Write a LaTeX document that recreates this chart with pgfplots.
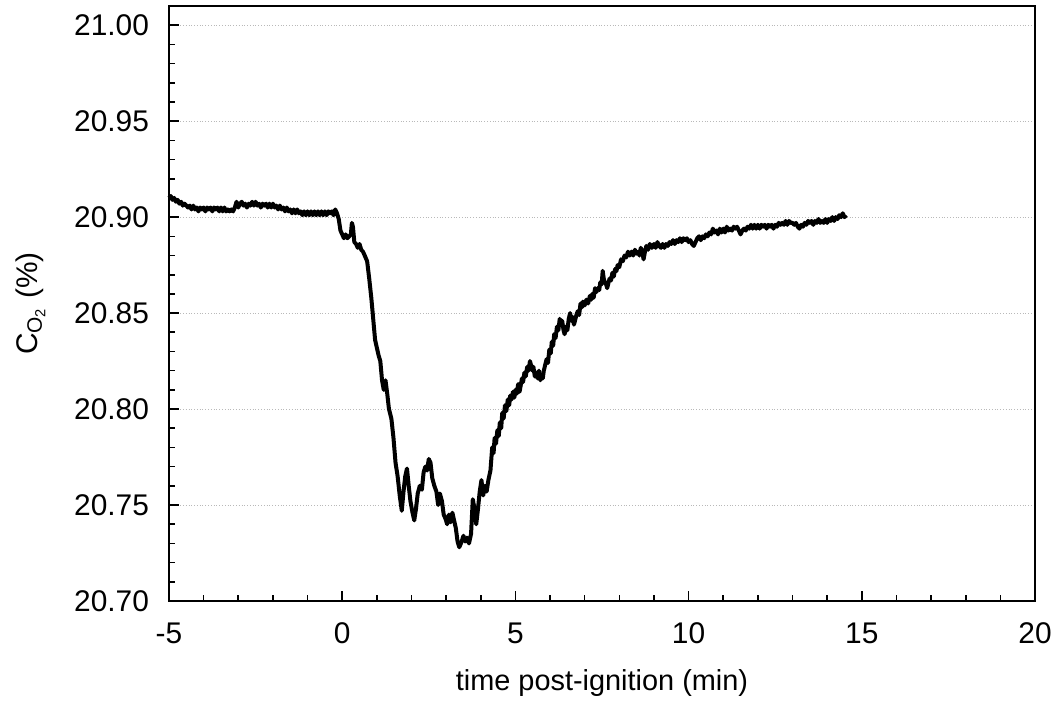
\documentclass[border=0pt]{standalone}
\usepackage{pgfplots}
\pgfplotsset{compat=1.18}
\usepackage{fontspec}
\setmainfont{Liberation Sans}
\begin{document}
\fontsize{14.5}{17}\selectfont
\begin{tikzpicture}
\begin{axis}[
  name=ax,
  scale only axis,
  width=433bp, height=297.5bp,
  xmin=-5, xmax=20, ymin=20.70, ymax=21.01,
  xtick={-5,0,5,10,15,20},
  ytick={20.70,20.75,20.80,20.85,20.90,20.95,21.00},
  minor x tick num=4, minor y tick num=4,
  tick align=inside,
  xtick pos=bottom, ytick pos=left,
  major tick length=5bp, minor tick length=3bp,
  every tick/.style={black, line width=0.8bp},
  axis line style={line width=1bp},
  ymajorgrids,
  major grid style={densely dotted, gray!55, line width=0.4bp},
  /pgf/number format/assume math mode=true,
  yticklabel style={/pgf/number format/fixed, /pgf/number format/fixed zerofill, /pgf/number format/precision=2, font=\fontsize{15}{17}\selectfont, xshift=-5bp},
  xticklabel style={font=\fontsize{15}{17}\selectfont, yshift=-6bp},
  scaled y ticks=false,
  xlabel={time post-ignition (min)},
  ylabel={C\textsubscript{O\textsubscript{2}} (\%)},
  xlabel style={at={(axis description cs:0.5,0)}, anchor=center, yshift=-41bp},
  ylabel style={at={(axis description cs:-0.16,0.5)}, anchor=center, font=\fontsize{15}{17}\selectfont},
  clip=false,
]
\addplot[black, line width=2bp, line join=round] coordinates {
(-5.00,20.910)(-4.95,20.911)(-4.90,20.909)(-4.85,20.910)(-4.80,20.908)(-4.75,20.909)(-4.70,20.907)(-4.65,20.908)(-4.60,20.906)(-4.55,20.907)(-4.50,20.906)
(-4.45,20.905)(-4.40,20.906)(-4.35,20.904)(-4.30,20.906)(-4.25,20.904)(-4.20,20.905)(-4.15,20.903)(-4.10,20.905)(-4.05,20.904)(-4.00,20.905)(-3.95,20.903)(-3.90,20.905)
(-3.85,20.904)(-3.80,20.905)(-3.75,20.903)(-3.70,20.905)(-3.65,20.904)(-3.60,20.905)(-3.55,20.903)(-3.50,20.905)(-3.45,20.903)(-3.40,20.905)(-3.35,20.903)(-3.30,20.904)
(-3.25,20.903)(-3.20,20.904)(-3.15,20.903)(-3.10,20.905)(-3.05,20.908)(-3.00,20.905)(-2.95,20.907)(-2.90,20.908)(-2.85,20.906)(-2.80,20.907)(-2.75,20.905)(-2.70,20.907)
(-2.65,20.906)(-2.60,20.908)(-2.55,20.906)(-2.50,20.908)(-2.45,20.906)(-2.40,20.907)(-2.35,20.905)(-2.30,20.907)(-2.25,20.906)(-2.20,20.907)(-2.15,20.905)(-2.10,20.907)
(-2.05,20.905)(-2.00,20.907)(-1.95,20.905)(-1.90,20.906)(-1.85,20.904)(-1.80,20.906)(-1.75,20.904)(-1.70,20.905)(-1.65,20.903)(-1.60,20.905)(-1.55,20.903)(-1.50,20.904)
(-1.45,20.902)(-1.40,20.904)(-1.35,20.902)(-1.30,20.904)(-1.25,20.902)(-1.20,20.903)(-1.15,20.901)(-1.10,20.903)(-1.05,20.901)(-1.00,20.903)(-0.95,20.901)(-0.90,20.903)
(-0.85,20.901)(-0.80,20.903)(-0.75,20.901)(-0.70,20.903)(-0.65,20.901)(-0.60,20.903)(-0.55,20.901)(-0.50,20.903)(-0.45,20.901)(-0.40,20.903)(-0.35,20.902)(-0.30,20.903)
(-0.25,20.901)(-0.20,20.904)(-0.15,20.902)(-0.10,20.899)(-0.05,20.893)(0.00,20.891)
(0.05,20.889)(0.10,20.891)(0.15,20.889)(0.20,20.890)(0.25,20.891)(0.28,20.897)(0.31,20.895)(0.35,20.887)
(0.40,20.886)(0.45,20.884)(0.50,20.886)(0.55,20.883)(0.60,20.882)(0.65,20.880)(0.72,20.877)(0.78,20.868)(0.84,20.858)
(0.90,20.846)(0.95,20.836)(1.00,20.832)(1.05,20.828)(1.10,20.825)(1.15,20.815)
(1.20,20.810)(1.25,20.815)(1.30,20.808)(1.35,20.800)(1.42,20.795)(1.48,20.785)
(1.54,20.772)(1.60,20.765)(1.66,20.755)(1.72,20.747)(1.77,20.757)(1.82,20.765)
(1.87,20.769)(1.92,20.760)(1.97,20.752)(2.03,20.746)(2.08,20.742)(2.13,20.748)
(2.18,20.756)(2.24,20.760)(2.30,20.758)(2.35,20.767)(2.40,20.770)(2.45,20.768)
(2.50,20.774)(2.55,20.772)(2.60,20.764)(2.66,20.760)(2.72,20.757)(2.77,20.750)
(2.82,20.756)(2.88,20.752)(2.93,20.745)(2.98,20.743)(3.03,20.740)(3.08,20.745)
(3.13,20.741)(3.18,20.746)(3.23,20.742)(3.28,20.738)(3.33,20.731)(3.38,20.728)
(3.45,20.731)(3.50,20.734)(3.55,20.731)(3.60,20.733)(3.66,20.730)(3.72,20.735)
(3.77,20.753)(3.82,20.748)(3.87,20.740)(3.92,20.748)(3.97,20.757)(4.02,20.763)
(4.07,20.755)(4.12,20.760)(4.17,20.757)(4.22,20.763)(4.28,20.768)
(4.33,20.780)(4.37,20.777)(4.40,20.785)(4.44,20.782)(4.48,20.789)(4.52,20.786)(4.55,20.793)(4.59,20.790)(4.62,20.798)(4.66,20.795)
(4.70,20.802)(4.74,20.799)(4.78,20.805)(4.82,20.802)(4.85,20.807)(4.89,20.805)(4.93,20.809)(4.97,20.806)(5.00,20.810)(5.04,20.808)
(5.08,20.813)(5.12,20.809)(5.15,20.812)(5.19,20.816)(5.22,20.814)(5.26,20.819)(5.30,20.817)(5.34,20.822)(5.38,20.820)(5.42,20.825)
(5.45,20.823)(5.49,20.820)(5.52,20.822)(5.56,20.817)(5.60,20.819)(5.64,20.816)(5.68,20.820)(5.72,20.815)(5.75,20.818)(5.79,20.816)
(5.82,20.820)(5.86,20.823)(5.90,20.826)(5.94,20.824)(5.98,20.831)(6.02,20.829)(6.05,20.835)(6.09,20.833)(6.12,20.839)(6.16,20.837)
(6.20,20.843)(6.24,20.841)(6.28,20.847)(6.32,20.844)(6.35,20.846)(6.39,20.841)(6.42,20.839)(6.46,20.843)(6.50,20.841)(6.54,20.847)
(6.58,20.850)(6.62,20.846)(6.65,20.848)(6.69,20.844)(6.72,20.846)(6.76,20.849)(6.80,20.851)(6.84,20.849)(6.88,20.855)(6.92,20.853)
(6.95,20.856)(7.00,20.854)(7.05,20.857)(7.10,20.855)(7.15,20.859)(7.19,20.857)(7.22,20.860)(7.26,20.858)(7.30,20.863)(7.34,20.861)
(7.38,20.863)(7.42,20.862)(7.45,20.866)(7.49,20.865)(7.52,20.872)(7.55,20.868)(7.58,20.866)(7.62,20.865)(7.65,20.863)(7.69,20.866)
(7.72,20.868)(7.76,20.867)(7.80,20.871)(7.84,20.869)(7.88,20.873)(7.92,20.872)(7.95,20.875)(8.00,20.874)(8.05,20.878)(8.10,20.877)
(8.15,20.880)(8.20,20.879)(8.25,20.882)(8.30,20.880)(8.35,20.882)(8.40,20.880)(8.45,20.883)(8.50,20.881)(8.55,20.882)(8.58,20.880)
(8.62,20.884)(8.66,20.882)(8.70,20.878)(8.74,20.882)(8.78,20.885)(8.83,20.883)(8.88,20.886)(8.94,20.884)(9.00,20.886)(9.05,20.884)
(9.10,20.887)(9.15,20.885)(9.20,20.884)(9.25,20.886)(9.30,20.884)(9.35,20.886)(9.40,20.885)(9.45,20.887)(9.50,20.886)(9.55,20.888)
(9.60,20.886)(9.65,20.888)(9.70,20.887)(9.75,20.889)(9.80,20.887)(9.85,20.889)(9.90,20.888)(9.95,20.889)(10.00,20.887)(10.05,20.888)
(10.10,20.886)(10.15,20.885)(10.20,20.887)(10.25,20.889)(10.30,20.890)(10.35,20.888)(10.40,20.890)(10.45,20.889)(10.50,20.891)(10.55,20.890)
(10.60,20.892)(10.65,20.891)(10.70,20.894)(10.75,20.892)(10.80,20.893)(10.85,20.891)(10.90,20.894)(10.95,20.892)(11.00,20.894)(11.05,20.892)
(11.10,20.895)(11.15,20.893)(11.20,20.894)(11.25,20.893)(11.30,20.895)(11.35,20.894)(11.40,20.895)(11.45,20.893)(11.50,20.891)(11.55,20.893)
(11.60,20.894)(11.65,20.893)(11.70,20.895)(11.75,20.894)(11.80,20.896)(11.85,20.894)(11.90,20.896)(11.95,20.894)(12.00,20.896)(12.05,20.894)
(12.10,20.896)(12.15,20.895)(12.20,20.896)(12.25,20.894)(12.30,20.896)(12.35,20.895)(12.40,20.896)(12.45,20.894)(12.50,20.896)(12.55,20.895)
(12.60,20.897)(12.65,20.896)(12.70,20.897)(12.75,20.896)(12.80,20.898)(12.85,20.896)(12.90,20.898)(12.95,20.897)(13.00,20.897)(13.05,20.896)
(13.10,20.897)(13.15,20.895)(13.20,20.894)(13.25,20.896)(13.30,20.895)(13.35,20.897)(13.40,20.896)(13.45,20.898)(13.50,20.897)(13.55,20.898)
(13.60,20.896)(13.65,20.898)(13.70,20.897)(13.75,20.899)(13.80,20.897)(13.85,20.898)(13.90,20.897)(13.95,20.899)(14.00,20.897)(14.05,20.899)
(14.10,20.898)(14.15,20.900)(14.20,20.898)(14.25,20.900)(14.30,20.899)(14.35,20.901)(14.40,20.900)(14.45,20.902)(14.50,20.900)(14.55,20.901)
};
\end{axis}
\pgfresetboundingbox
\path[use as bounding box] ([xshift=-84.5bp,yshift=-50.5bp]ax.south west) rectangle ([xshift=13bp,yshift=3bp]ax.north east);
\end{tikzpicture}
\end{document}
